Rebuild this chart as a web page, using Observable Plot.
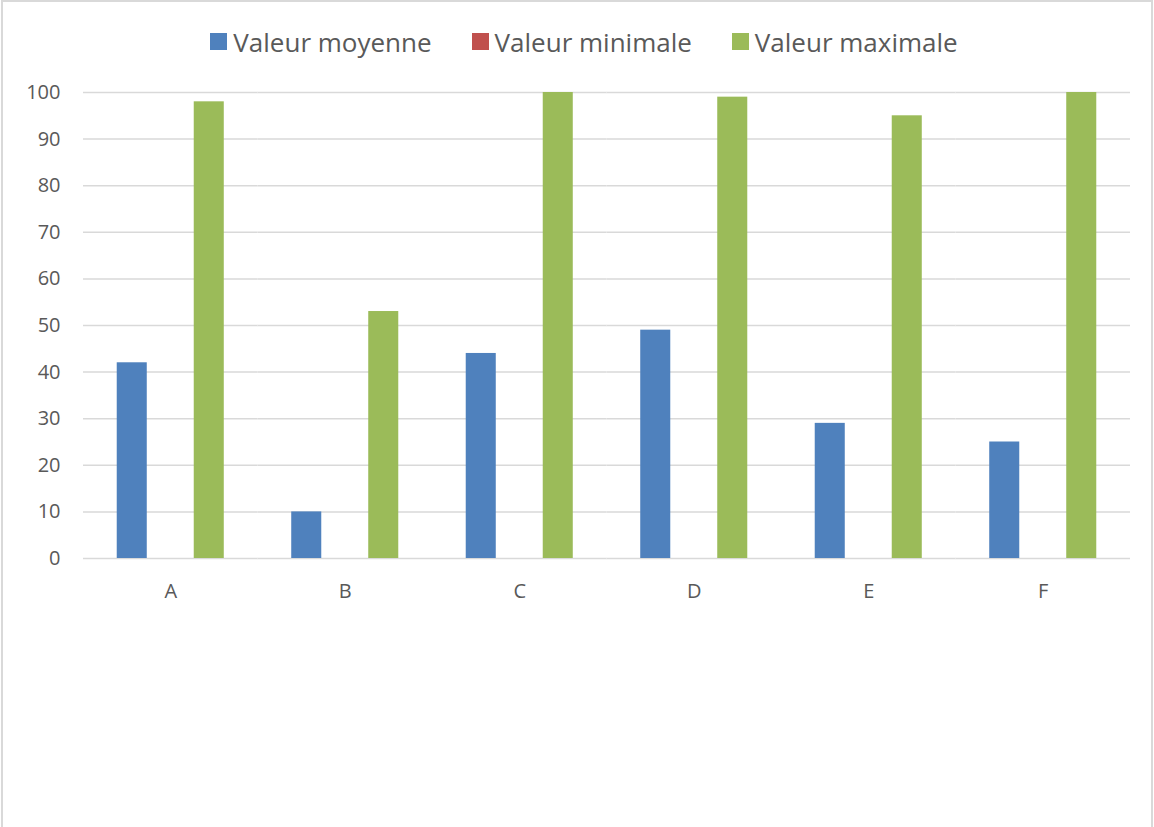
<!DOCTYPE html>
<html><head><meta charset="utf-8">
<script src="https://cdn.jsdelivr.net/npm/d3@7"></script>
<script src="https://cdn.jsdelivr.net/npm/@observablehq/plot@0.6"></script>
<style>
body{margin:0;background:#fff;}
#frame{position:relative;width:1154px;height:827px;overflow:hidden;font-family:"Open Sans",sans-serif;background:#fff;}
#border{position:absolute;left:1px;top:0;width:1152px;height:840px;box-sizing:border-box;border:2px solid #d9d9d9;pointer-events:none;}
#legend{height:70px;box-sizing:border-box;padding-top:13px;padding-left:14px;display:flex;justify-content:center;align-items:center;color:#595959;font-size:26px;}
.item{display:flex;align-items:center;margin:0 20px;}
.sw{width:17px;height:17px;margin-right:6px;}
</style></head>
<body>
<div id="frame">
<div id="legend"></div>
<div id="chart"></div>
<div id="border"></div>
</div>
<script>
const categories = ["A","B","C","D","E","F"];
const series = ["Valeur moyenne","Valeur minimale","Valeur maximale"];
const moyenne = [42,10,44,49,29,25];
const minimale = [0,0,0,0,0,0];
const maximale = [98,53,100,99,95,100];
const colors = ["#4f81bd","#c0504d","#9bbb59"];
const yTicks = [0,10,20,30,40,50,60,70,80,90,100];

const seriesValues = [moyenne, minimale, maximale];
const data = categories.flatMap((c,i)=>series.map((s,j)=>({cat:c, series:s, value:seriesValues[j][i]})));

const legend = document.getElementById("legend");
series.forEach((s,j)=>{
  const it = document.createElement("div"); it.className="item";
  const sw = document.createElement("div"); sw.className="sw"; sw.style.background=colors[j];
  const t = document.createElement("span"); t.textContent=s;
  it.appendChild(sw); it.appendChild(t); legend.appendChild(it);
});

const chart = Plot.plot({
  width:1154, height:757,
  marginLeft:83, marginRight:24, marginTop:22, marginBottom:269,
  style:{fontFamily:"'Open Sans', sans-serif", fontSize:"20px", color:"#595959", background:"white"},
  fx:{domain:categories, padding:0, round:false, label:null, axis:"bottom", tickSize:0, tickPadding:25},
  x:{domain:series, paddingInner:0.22, paddingOuter:0.876, round:false, axis:null},
  y:{domain:[0,100], ticks:yTicks, label:null, tickSize:0, tickPadding:23},
  color:{domain:series, range:colors},
  marks:[
    Plot.gridY(yTicks, {stroke:"#d9d9d9", strokeOpacity:1, strokeWidth:1.5}),
    Plot.barY(data, {fx:"cat", x:"series", y:"value", fill:"series"})
  ]
});
document.getElementById("chart").appendChild(chart);
</script>
</body></html>
